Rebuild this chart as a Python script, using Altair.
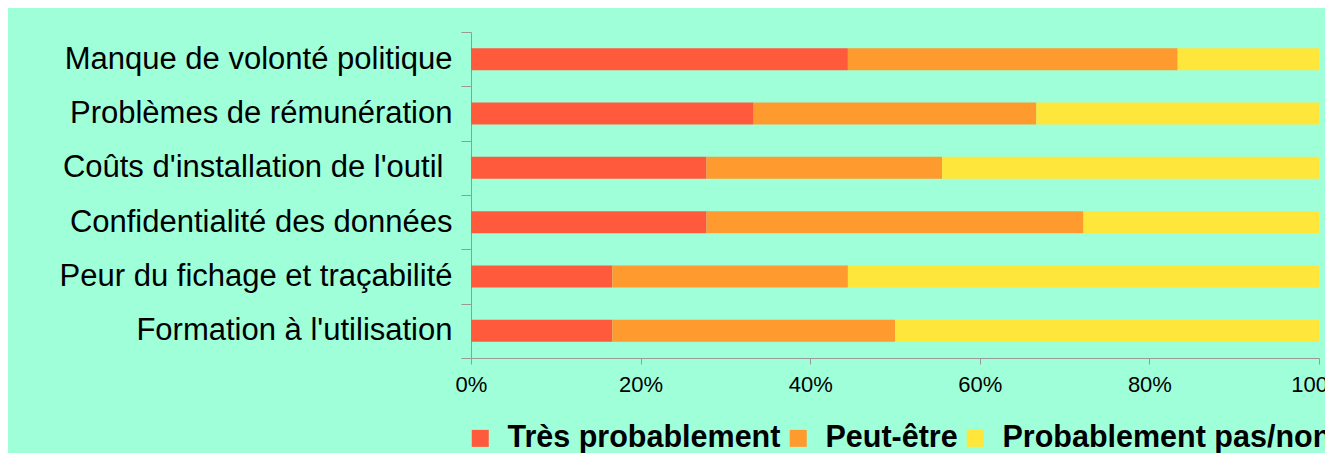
import altair as alt
import pandas as pd

categories = [
    "Manque de volonté politique",
    "Problèmes de rémunération",
    "Coûts d'installation de l'outil ",
    "Confidentialité des données",
    "Peur du fichage et traçabilité",
    "Formation à l'utilisation",
]
responses = ["Très probablement", "Peut-être", "Probablement pas/non"]
tres_probablement = [8, 6, 5, 5, 3, 3]
peut_etre = [7, 6, 5, 8, 5, 6]
probablement_pas = [3, 6, 8, 5, 10, 9]
colors = ["#FF5A3C", "#FF9A2E", "#FFE63A"]
tick_values = [0, 0.2, 0.4, 0.6, 0.8, 1.0]

rows = []
for i, cat in enumerate(categories):
    for j, (resp, series) in enumerate(zip(responses, [tres_probablement, peut_etre, probablement_pas])):
        rows.append({"category": cat, "response": resp, "value": series[i], "idx": j})
df = pd.DataFrame(rows)

FONT = "Liberation Sans"

chart = alt.Chart(df).mark_bar(size=22).encode(
    y=alt.Y(
        "category:N",
        sort=categories,
        scale=alt.Scale(paddingInner=0, paddingOuter=0),
        axis=alt.Axis(
            title=None,
            tickBand="extent",
            tickSize=10,
            labelPadding={"condition": {"test": "indexof(datum.label, 'outil ') >= 0", "value": 18}, "value": 9},
            labelFontSize=31,
            labelFont=FONT,
            labelColor="#000000",
            labelLimit=0,
            domainColor="#999999",
            tickColor="#999999",
        ),
    ),
    x=alt.X(
        "value:Q",
        stack="normalize",
        scale=alt.Scale(domain=[0, 1], nice=False),
        axis=alt.Axis(
            title=None,
            values=tick_values,
            format=".0%",
            grid=False,
            tickSize=6,
            labelPadding=10,
            labelFontSize=22,
            labelFont=FONT,
            labelColor="#000000",
            domainColor="#999999",
            tickColor="#999999",
            labelFlush=False,
            labelOverlap=False,
        ),
    ),
    color=alt.Color(
        "response:N",
        sort=responses,
        scale=alt.Scale(domain=responses, range=colors),
        legend=alt.Legend(
            title=None,
            orient="none",
            legendX=-6,
            legendY=391,
            direction="horizontal",
            symbolType="square",
            symbolSize=289,
            symbolStrokeWidth=0,
            labelFontSize=30.5,
            labelFont=FONT,
            labelFontWeight="bold",
            labelColor="#000000",
            labelOffset=12,
            columnPadding=2,
            labelLimit=0,
        ),
    ),
    order=alt.Order("idx:Q"),
).properties(
    width=848,
    height=326,
    autosize="none",
    padding={"left": 463, "top": 24, "right": 6, "bottom": 95},
    background="#9FFFD9",
).configure_view(stroke=None)

chart.save("out.html", embed_options={"renderer": "svg", "actions": False})
